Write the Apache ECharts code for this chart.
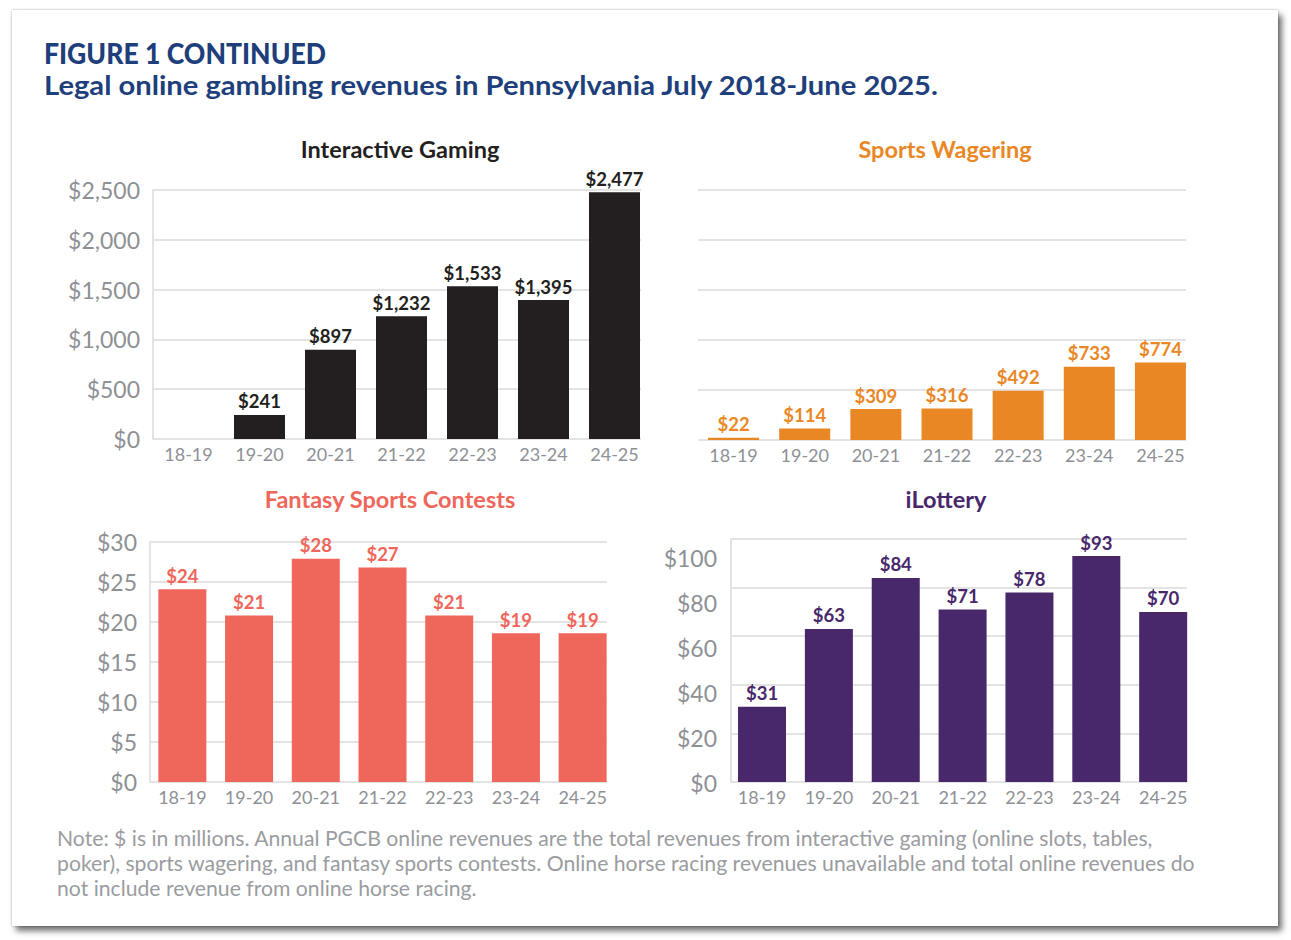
<!DOCTYPE html>
<html>
<head>
<meta charset="utf-8">
<script src="https://cdn.jsdelivr.net/npm/echarts@6/dist/echarts.min.js"></script>
<style>
  html, body { margin: 0; padding: 0; background: #ffffff; }
  #card { position: absolute; left: 12px; top: 10px; width: 1266px; height: 916px; background: #fff;
          box-shadow: 0 0 2px rgba(0,0,0,0.35), 4px 5px 6px rgba(0,0,0,0.55); }
  #chart { position: absolute; left: 0; top: 0; width: 1291px; height: 940px; }
</style>
</head>
<body>
<div id="card"></div>
<div id="chart"></div>
<script>
const categories = ['18-19', '19-20', '20-21', '21-22', '22-23', '23-24', '24-25'];
const interactiveGaming = [null, 241, 897, 1232, 1533, 1395, 2477];
const sportsWagering = [22, 114, 309, 316, 492, 733, 774];
const fantasySports = [24.1, 20.8, 27.9, 26.8, 20.8, 18.6, 18.6];
const iLottery = [31, 63, 84, 71, 78, 93, 70];
const bigTicks = { min: 0, max: 2500, interval: 500 };
const fantasyTicks = { min: 0, max: 30, interval: 5 };
const lotteryTicks = { min: 0, max: 100, interval: 20 };

const FONT = 'Lato, "Open Sans", sans-serif';
const GRID_COLOR = '#e3e3e3';
const AXIS_TEXT = '#8e9095';

const fmt = v => '$' + Math.round(v).toLocaleString('en-US');

const chart = echarts.init(document.getElementById('chart'), null, { renderer: 'svg' });

// Each panel: grid A carries gridlines/y labels, grid B carries bars and category labels.
const panels = [
  { data: interactiveGaming, color: '#231f20', ticks: bigTicks, a: { left: 153, top: 190, width: 488, height: 249 }, b: { left: 153, top: 190, width: 497, height: 249 }, barWidth: 51, yLabels: true, yLine: true },
  { data: sportsWagering, color: '#e98724', ticks: bigTicks, a: { left: 698, top: 190, width: 488, height: 250 }, b: { left: 698, top: 190, width: 498, height: 250 }, barWidth: 51, yLabels: false, yLine: false },
  { data: fantasySports, color: '#ef665b', ticks: fantasyTicks, a: { left: 150, top: 542, width: 457, height: 240 }, b: { left: 149, top: 542, width: 467, height: 240 }, barWidth: 48, yLabels: true, yLine: true },
  { data: iLottery, color: '#48286b', ticks: lotteryTicks, a: { left: 731, top: 539, width: 456, height: 243 }, b: { left: 728.6, top: 539, width: 468, height: 243 }, barWidth: 48, yLabels: false, yLine: true, labelGrid: { left: 731, top: 558, width: 456, height: 225 } }
];

const grid = [], xAxis = [], yAxis = [], series = [];
panels.forEach(p => {
  const ia = grid.length;
  grid.push(p.a);
  xAxis.push({ type: 'category', gridIndex: ia, data: categories, show: false });
  yAxis.push({
    type: 'value', gridIndex: ia, min: p.ticks.min, max: p.ticks.max, interval: p.ticks.interval,
    axisLine: { show: p.yLine, lineStyle: { color: GRID_COLOR, width: 2 } },
    axisTick: { show: false },
    axisLabel: { show: p.yLabels, color: AXIS_TEXT, fontFamily: FONT, fontSize: 23, margin: 13, formatter: v => fmt(v) },
    splitLine: { show: true, lineStyle: { color: GRID_COLOR, width: 2 } }
  });
  const ib = grid.length;
  grid.push(p.b);
  xAxis.push({
    type: 'category', gridIndex: ib, data: categories,
    axisLine: { show: false }, axisTick: { show: false },
    axisLabel: { color: AXIS_TEXT, fontFamily: FONT, fontSize: 18, margin: 6, interval: 0 }
  });
  yAxis.push({ type: 'value', gridIndex: ib, min: p.ticks.min, max: p.ticks.max, show: false, splitLine: { show: false } });
  series.push({
    type: 'bar', xAxisIndex: ib, yAxisIndex: ib, data: p.data, barWidth: p.barWidth,
    itemStyle: { color: p.color }, clip: false, animation: false,
    label: { show: true, position: 'top', distance: 4, color: p.color, fontFamily: FONT, fontWeight: 'bold', fontSize: 18.5,
             formatter: d => (d.value == null ? '' : fmt(d.value)) }
  });
  if (p.labelGrid) {
    const ic = grid.length;
    grid.push(p.labelGrid);
    xAxis.push({ type: 'category', gridIndex: ic, data: categories, show: false });
    yAxis.push({
      type: 'value', gridIndex: ic, min: p.ticks.min, max: p.ticks.max, interval: p.ticks.interval,
      axisLine: { show: false }, axisTick: { show: false }, splitLine: { show: false },
      axisLabel: { color: AXIS_TEXT, fontFamily: FONT, fontSize: 23, margin: 14, formatter: v => fmt(v) }
    });
  }
});

const titleText = (text, x, y, color, size) => ({
  type: 'text', x: x, y: y, silent: true,
  style: { text: text, fill: color, font: 'bold ' + size + 'px ' + FONT, textAlign: 'center', textVerticalAlign: 'middle' }
});

chart.setOption({
  animation: false,
  backgroundColor: 'transparent',
  grid: grid, xAxis: xAxis, yAxis: yAxis, series: series,
  graphic: [
    { type: 'text', x: 44, y: 53, scaleX: 0.95, silent: true,
      style: { text: 'FIGURE 1 CONTINUED', fill: '#1e3f7b', font: '900 28px ' + FONT, textVerticalAlign: 'middle' } },
    { type: 'text', x: 44, y: 84, scaleX: 1.08, silent: true,
      style: { text: 'Legal online gambling revenues in Pennsylvania July 2018-June 2025.', fill: '#1e3f7b', font: 'bold 27px ' + FONT, textVerticalAlign: 'middle' } },
    titleText('Interactive Gaming', 400, 149, '#231f20', 23.5),
    titleText('Sports Wagering', 945, 149, '#e98724', 23.5),
    titleText('Fantasy Sports Contests', 390, 499, '#ef665b', 23.5),
    titleText('iLottery', 946, 499, '#48286b', 23.5),
    { type: 'text', x: 57, y: 825, silent: true,
      style: { text: 'Note: $ is in millions. Annual PGCB online revenues are the total revenues from interactive gaming (online slots, tables,\npoker), sports wagering, and fantasy sports contests. Online horse racing revenues unavailable and total online revenues do\nnot include revenue from online horse racing.',
               fill: '#9a9ca0', font: '21.2px ' + FONT, lineHeight: 25 } }
  ]
});
</script>
</body>
</html>
